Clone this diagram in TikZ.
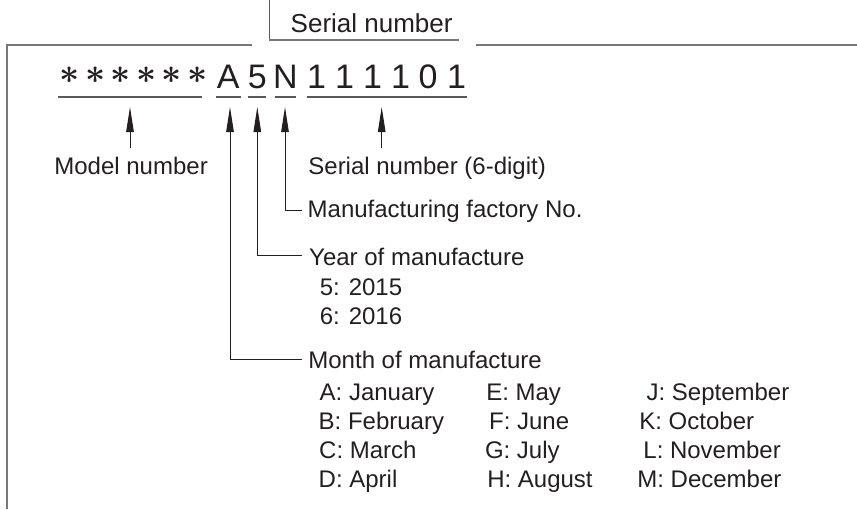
\documentclass[tikz,border=0pt]{standalone}
\usepackage{graphicx}
\usepackage{amsmath}
\usepackage{fontspec}
\setmainfont{Liberation Sans}
\usetikzlibrary{arrows.meta}
\definecolor{ink}{RGB}{35,31,32}
\definecolor{framegray}{RGB}{120,120,120}
\definecolor{ulgray}{RGB}{90,90,90}
\begin{document}
\begin{tikzpicture}[x=1pt,y=-1pt,
  lbl/.style={anchor=base west,inner sep=0pt,font=\fontsize{24}{28}\selectfont,text=ink},
  ttl/.style={anchor=base west,inner sep=0pt,font=\fontsize{26}{30}\selectfont,text=ink},
  big/.style={anchor=base,inner sep=0pt,font=\fontsize{34}{40}\selectfont,text=ink},
  star/.style={anchor=center,inner sep=0pt,text=ink},
  uline/.style={draw=ulgray,line width=1.6pt},
  framel/.style={draw=framegray,line width=1.5pt},
  arr/.style={draw=ink,line width=1pt,-{Triangle[length=25pt,width=7.5pt]}}]
\useasboundingbox (0,0) rectangle (857,509);

% frame
\draw[framel] (7,509) -- (7,45) -- (252,45);
\draw[framel] (476,45) -- (857,45);
\draw[draw=ulgray,line width=1pt] (269.3,0) -- (269.3,40);
\draw[framel] (268.8,40) -- (459,40);
\node[ttl] (title) at (290.5,32.3) {Serial number};

% code characters
\foreach \x [count=\i] in {70,95.5,121,146.5,172,197.5}
  \node[star] (s\i) at (\x,75) {\scalebox{3.5}{$\boldsymbol{\ast}$}};
\node[big] (cA) at (228.3,88) {A};
\node[big] (c5) at (257.3,88) {5};
\node[big] (cN) at (285.3,88) {N};
\node[big] (d1) at (316.5,88) {1};
\node[big] (d2) at (344.5,88) {1};
\node[big] (d3) at (372.5,88) {1};
\node[big] (d4) at (400.5,88) {1};
\node[big] (d5) at (428,88) {0};
\node[big] (d6) at (456.5,88) {1};

% underlines
\draw[uline] (58.3,97) -- (201.7,97);
\draw[uline] (216,97) -- (240.7,97);
\draw[uline] (248.3,97) -- (266,97);
\draw[uline] (275,97) -- (295.7,97);
\draw[uline] (307.3,97) -- (467.3,97);

% labels
\node[lbl] (model) at (54.2,174.5) {Model number};
\node[lbl] (serial) at (308.2,174) {Serial number (6-digit)};
\node[lbl] (factory) at (307.5,217.3) {Manufacturing factory No.};
\node[lbl] (year) at (309,265) {Year of manufacture};
\node[lbl] (y5) at (319.7,295) {5: 2015};
\node[lbl] (y6) at (319.7,324) {6: 2016};
\node[lbl] (month) at (308.2,368) {Month of manufacture};

\node[lbl] (mA) at (319.5,400.7) {A: January};
\node[lbl] (mB) at (318.5,429.3) {B: February};
\node[lbl] (mC) at (319,458.3) {C: March};
\node[lbl] (mD) at (318.5,487.3) {D: April};
\node[lbl] (mE) at (486.1,400.7) {E: May};
\node[lbl] (mF) at (488.9,429.3) {F: June};
\node[lbl] (mG) at (484.8,458.3) {G: July};
\node[lbl] (mH) at (487.1,487.3) {H: August};
\node[lbl] (mJ) at (646.4,400.7) {J: September};
\node[lbl] (mK) at (639.2,429.3) {K: October};
\node[lbl] (mL) at (643.2,458.3) {L: November};
\node[lbl] (mM) at (637.2,487.3) {M: December};

% connector end points
\coordinate (modelTail) at (130,148);
\coordinate (modelTip) at (130,107);
\coordinate (serialTail) at (381.7,148);
\coordinate (serialTip) at (381.7,107);
\coordinate (factEnd) at (302,210);
\coordinate (nTip) at (285,107);
\coordinate (yearEnd) at (302,255);
\coordinate (fiveTip) at (257.3,107);
\coordinate (monthEnd) at (302,359);
\coordinate (aTip) at (230,107);

\draw[arr] (modelTail) -- (modelTip);
\draw[arr] (serialTail) -- (serialTip);
\draw[arr] (factEnd) -| (nTip);
\draw[arr] (yearEnd) -| (fiveTip);
\draw[arr] (monthEnd) -| (aTip);
\end{tikzpicture}
\end{document}
